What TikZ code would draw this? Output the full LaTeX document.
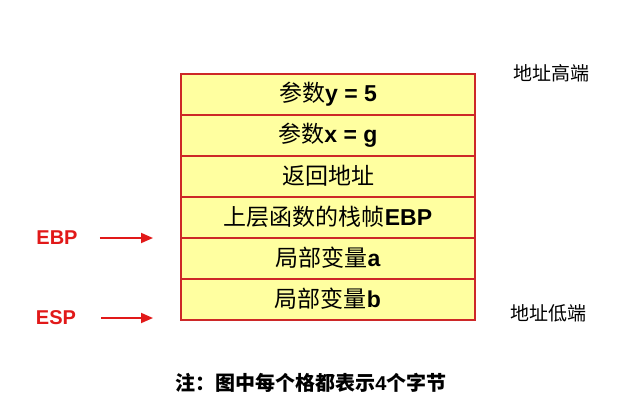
\documentclass[tikz,border=0pt]{standalone}
\usepackage{fontspec}
\setmainfont{Liberation Sans}
\newfontfamily\cjk{Noto Sans CJK SC}
\usetikzlibrary{arrows.meta}
\definecolor{cellred}{RGB}{205,40,40}
\definecolor{cellfill}{RGB}{255,255,160}
\definecolor{lblred}{RGB}{225,25,25}
\newcommand{\zh}[1]{{\mdseries\cjk #1}}
\newcommand{\cl}[1]{\raisebox{-2pt}{#1}}
\tikzset{
  cell/.style={draw=cellred, line width=2pt, fill=cellfill, minimum width=294pt, minimum height=41pt, inner sep=0pt, font=\fontsize{23}{23}\selectfont\bfseries},
  reglbl/.style={text=lblred, font=\fontsize{20}{20}\selectfont\bfseries, inner sep=0pt},
  regarrow/.style={draw=lblred, line width=1.8pt, -{Triangle[length=12pt,width=10pt]}},
  side/.style={font=\fontsize{19}{19}\selectfont\cjk, inner sep=0pt},
}
\begin{document}
\begin{tikzpicture}[x=1pt,y=-1pt]
\useasboundingbox (0,0) rectangle (640,405);
\node[cell] (c1) at (328,94) {\cl{\zh{参数}y = 5}};
\node[cell] (c2) at (328,135) {\cl{\zh{参数}x = g}};
\node[cell] (c3) at (328,176) {\cl{\zh{返回地址}}};
\node[cell] (c4) at (328,217) {\cl{\zh{上层函数的栈帧}EBP}};
\node[cell] (c5) at (328,258) {\cl{\zh{局部变量}a}};
\node[cell] (c6) at (328,299) {\cl{\zh{局部变量}b}};
\node[reglbl] (ebp) at (57,238) {EBP};
\node[reglbl] (esp) at (56,318) {ESP};
\coordinate (ebpend) at (153,238);
\coordinate (espend) at (153,318);
\draw[regarrow] ([xshift=22pt]ebp.east) -- (ebpend);
\draw[regarrow] ([xshift=25pt]esp.east) -- (espend);
\node[side] (hi) at (551,73) {地址高端};
\node[side] (lo) at (548,313) {地址低端};
\node[font=\fontsize{20}{20}\selectfont\cjk\bfseries, inner sep=0pt] (note) at (311,383) {注：图中每个格都表示{\fontspec{Liberation Sans}4}个字节};
\end{tikzpicture}
\end{document}
